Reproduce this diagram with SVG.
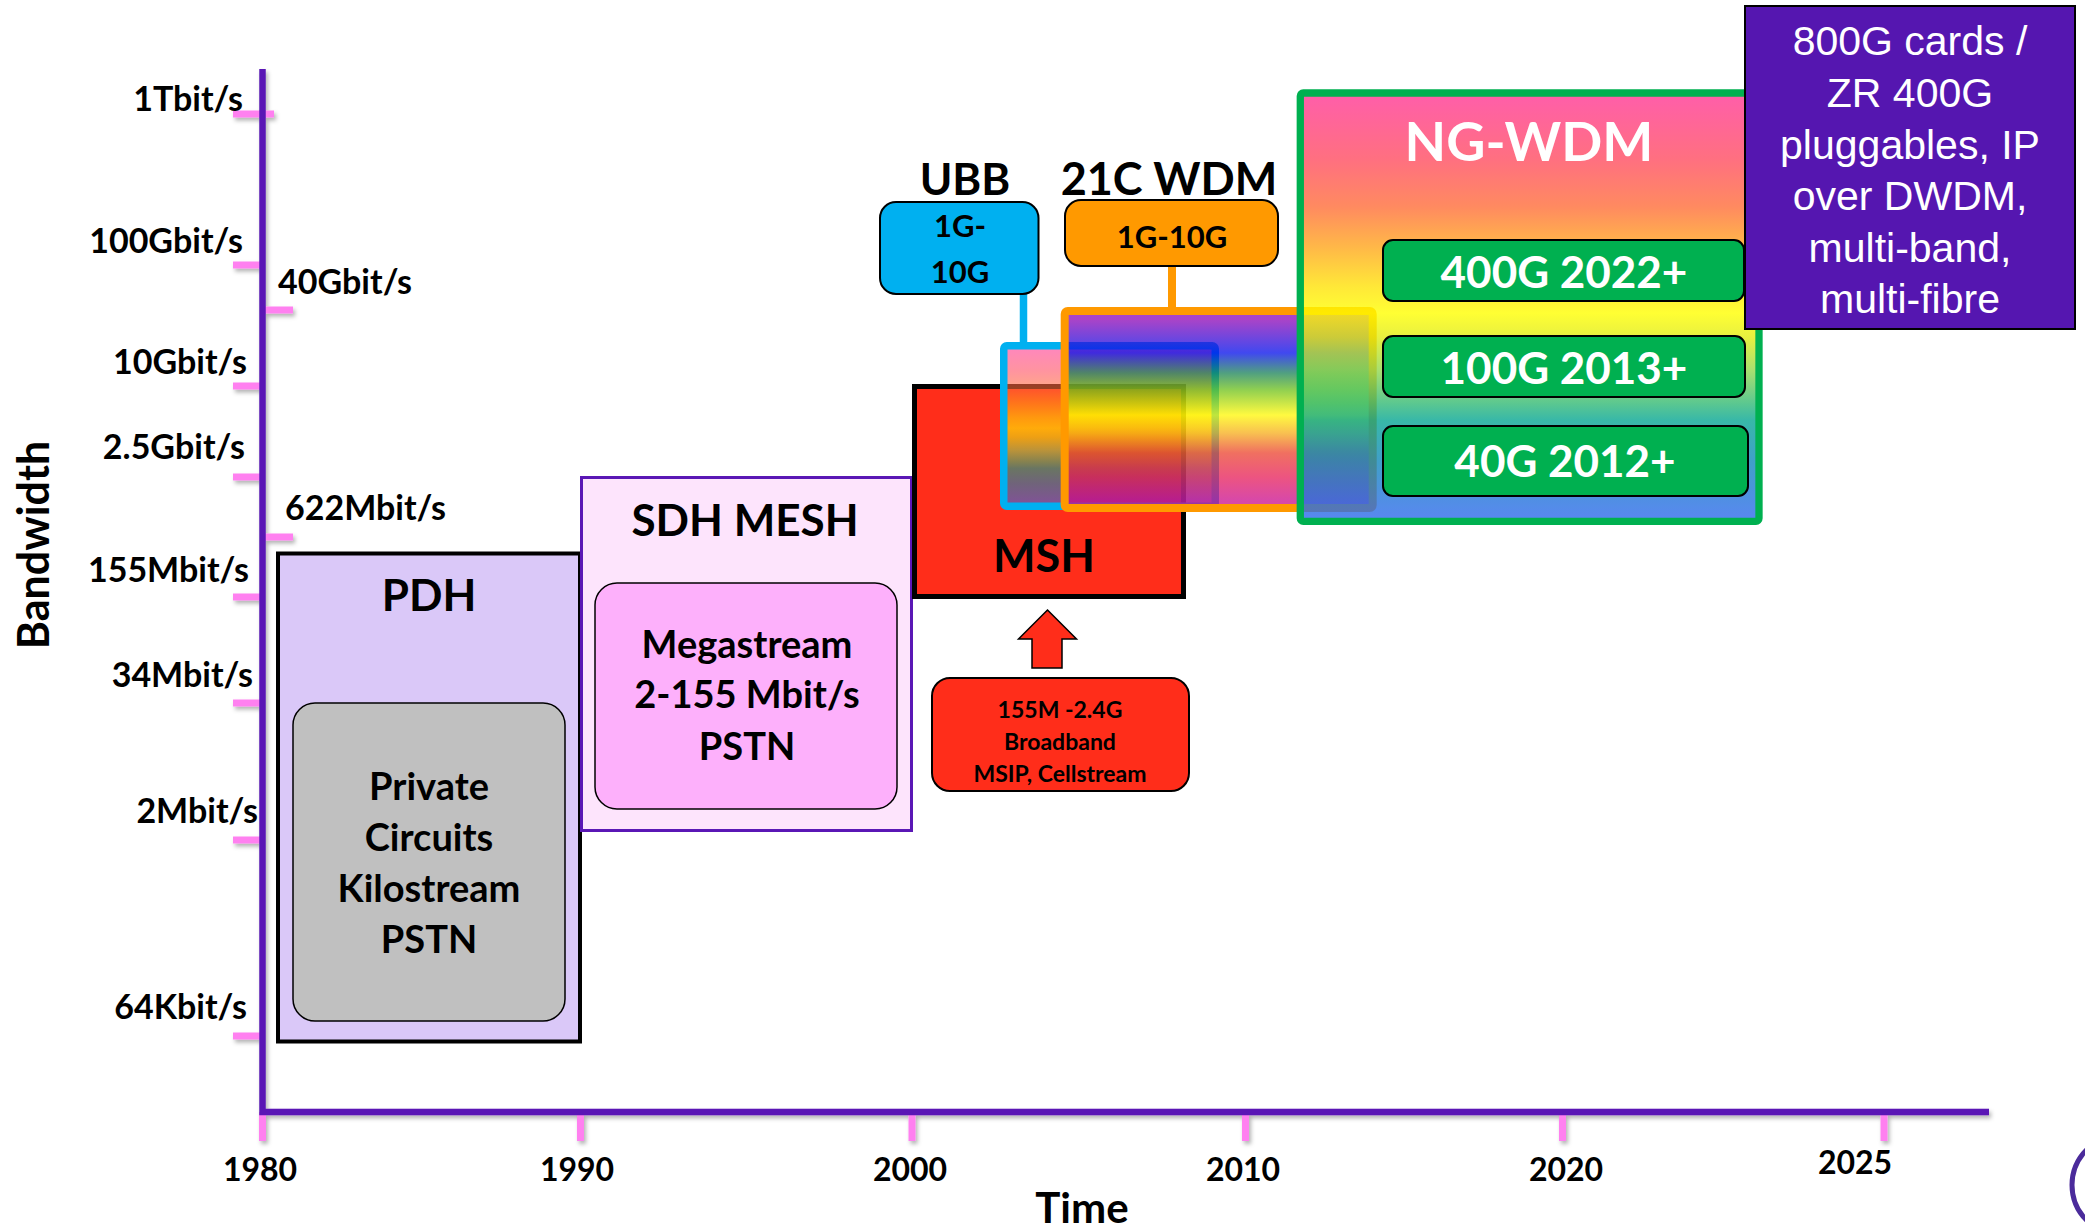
<svg xmlns="http://www.w3.org/2000/svg" width="2085" height="1228" viewBox="0 0 2085 1228">
<defs>
  <linearGradient id="gNG" x1="0" y1="0" x2="0" y2="1">
    <stop offset="0.01" stop-color="#ff3792"/>
    <stop offset="0.156" stop-color="#ff4c60"/>
    <stop offset="0.266" stop-color="#ff6d38"/>
    <stop offset="0.36" stop-color="#ffa61a"/>
    <stop offset="0.452" stop-color="#ffe206"/>
    <stop offset="0.514" stop-color="#ffff00"/>
    <stop offset="0.57" stop-color="#e2ec10"/>
    <stop offset="0.647" stop-color="#92d84c"/>
    <stop offset="0.724" stop-color="#33ba74"/>
    <stop offset="0.764" stop-color="#06a692"/>
    <stop offset="0.857" stop-color="#1088ba"/>
    <stop offset="0.99" stop-color="#2e6aec"/>
  </linearGradient>
  <linearGradient id="g21" x1="0" y1="0" x2="0" y2="1">
    <stop offset="0.046" stop-color="#8b05b6"/>
    <stop offset="0.213" stop-color="#000beb"/>
    <stop offset="0.315" stop-color="#168056"/>
    <stop offset="0.40" stop-color="#6bc016"/>
    <stop offset="0.528" stop-color="#fff800"/>
    <stop offset="0.62" stop-color="#f6ab16"/>
    <stop offset="0.72" stop-color="#eb402b"/>
    <stop offset="0.843" stop-color="#e61b56"/>
    <stop offset="0.96" stop-color="#cb0b8b"/>
  </linearGradient>
  <filter id="sh" filterUnits="userSpaceOnUse" x="0" y="0" width="2085" height="1228">
    <feDropShadow dx="2" dy="3" stdDeviation="2" flood-color="#000" flood-opacity="0.3"/>
  </filter>
</defs>
<style>
  text{font-family:Lato,"Liberation Sans",sans-serif;font-weight:700;fill:#000}
  .ax{font-size:34px;text-anchor:end}
  .axs{font-size:34px;text-anchor:start}
  .yr{font-size:32px;text-anchor:middle}
  .title{font-size:44px;text-anchor:middle}
  .body{font-size:38px;text-anchor:middle}
  .small{font-size:23px;text-anchor:middle}
  .tag{font-size:31px;text-anchor:middle}
  .green{font-size:44px;text-anchor:middle;fill:#fff}
  .arial{font-family:"Liberation Sans",Arial,sans-serif;font-weight:400;font-size:41px;text-anchor:middle;fill:#fff}
  .tick{stroke:#ff80f0;stroke-width:7}
  .axis{stroke:#5a17b5;stroke-width:6.5;fill:none}
  .rr{stroke:#000;stroke-width:2}
</style>
<rect width="2085" height="1228" fill="#fff"/>

<g id="axes" filter="url(#sh)">
  <g class="tick">
    <line x1="233" y1="114" x2="274" y2="114"/>
    <line x1="233" y1="265" x2="262" y2="265"/>
    <line x1="262" y1="310" x2="293" y2="310"/>
    <line x1="233" y1="386" x2="262" y2="386"/>
    <line x1="233" y1="477" x2="262" y2="477"/>
    <line x1="262" y1="537" x2="293" y2="537"/>
    <line x1="233" y1="597" x2="262" y2="597"/>
    <line x1="233" y1="703" x2="262" y2="703"/>
    <line x1="233" y1="840" x2="262" y2="840"/>
    <line x1="233" y1="1036" x2="262" y2="1036"/>
    <line x1="262.5" y1="1112" x2="262.5" y2="1141"/>
    <line x1="580.5" y1="1112" x2="580.5" y2="1141"/>
    <line x1="912" y1="1112" x2="912" y2="1141"/>
    <line x1="1245.5" y1="1112" x2="1245.5" y2="1141"/>
    <line x1="1562.5" y1="1112" x2="1562.5" y2="1141"/>
    <line x1="1884" y1="1110" x2="1884" y2="1141"/>
  </g>
  <path class="axis" d="M262.5 69 V1112 H1989"/>
</g>

<g id="axis-labels">
  <text class="ax" x="243" y="111">1Tbit/s</text>
  <text class="ax" x="243" y="253">100Gbit/s</text>
  <text class="axs" x="278" y="294">40Gbit/s</text>
  <text class="ax" x="247" y="374">10Gbit/s</text>
  <text class="ax" x="245" y="459">2.5Gbit/s</text>
  <text class="axs" x="285" y="520">622Mbit/s</text>
  <text class="ax" x="249" y="582">155Mbit/s</text>
  <text class="ax" x="253" y="687">34Mbit/s</text>
  <text class="ax" x="258" y="823">2Mbit/s</text>
  <text class="ax" x="247" y="1019">64Kbit/s</text>
  <text x="0" y="0" transform="translate(49,545) rotate(-90)" style="font-size:43px;text-anchor:middle">Bandwidth</text>
  <text class="yr" x="260" y="1181">1980</text>
  <text class="yr" x="577" y="1181">1990</text>
  <text class="yr" x="910" y="1181">2000</text>
  <text class="yr" x="1243" y="1181">2010</text>
  <text class="yr" x="1566" y="1181">2020</text>
  <text class="yr" x="1855" y="1174">2025</text>
  <text x="1082" y="1223" style="font-size:42px;text-anchor:middle">Time</text>
</g>

<g id="pdh">
  <rect x="278" y="553.5" width="302" height="488" fill="#dac8f8" stroke="#000" stroke-width="4"/>
  <text class="title" x="429" y="611">PDH</text>
  <rect x="293" y="703" width="272" height="318" rx="22" fill="#c0c0c0" stroke="#000" stroke-width="1.5"/>
  <text class="body" x="429" y="800">Private</text>
  <text class="body" x="429" y="851">Circuits</text>
  <text class="body" x="429" y="902">Kilostream</text>
  <text class="body" x="429" y="953">PSTN</text>
</g>

<g id="sdh-mesh">
  <rect x="581.5" y="477.5" width="330" height="353" fill="#fde4fc" stroke="#5a17b5" stroke-width="3"/>
  <text class="title" x="745" y="536">SDH MESH</text>
  <rect x="595" y="583" width="302" height="226" rx="22" fill="#fdb0fb" stroke="#000" stroke-width="1.5"/>
  <text class="body" x="747" y="658">Megastream</text>
  <text class="body" x="747" y="708">2-155 Mbit/s</text>
  <text class="body" x="747" y="760">PSTN</text>
</g>

<g id="msh">
  <rect x="914.5" y="386.5" width="269" height="210" fill="#ff2d1a" stroke="#000" stroke-width="5"/>
  <text class="title" x="1044" y="572" style="font-size:45px">MSH</text>
</g>

<g id="msh-services">
  <rect x="932" y="678" width="257" height="113" rx="18" fill="#ff2d1a" class="rr"/>
  <text class="small" x="1060" y="718">155M -2.4G</text>
  <text class="small" x="1060" y="750">Broadband</text>
  <text class="small" x="1060" y="782">MSIP, Cellstream</text>
</g>

<g id="connectors">
  <polygon points="1047.5,610 1076.5,639 1062,639 1062,668 1032,668 1032,639 1018.5,639" fill="#ff2d1a" stroke="#000" stroke-width="1.5" stroke-linejoin="miter"/>
  <line x1="1023.5" y1="294" x2="1023.5" y2="343" stroke="#00b0f0" stroke-width="7.5"/>
  <line x1="1172" y1="266" x2="1172" y2="308" stroke="#ff9900" stroke-width="8"/>
</g>

<g id="ubb-label">
  <text class="title" x="965" y="195">UBB</text>
  <rect x="880" y="202" width="158.5" height="92" rx="16" fill="#00b0f0" class="rr"/>
  <text class="tag" x="960" y="237">1G-</text>
  <text class="tag" x="960" y="283">10G</text>
</g>

<g id="wdm21c-label">
  <text class="title" x="1169" y="195" style="font-size:45px">21C WDM</text>
  <rect x="1065" y="200" width="213" height="66" rx="16" fill="#ff9900" class="rr"/>
  <text class="tag" x="1172" y="248">1G-10G</text>
</g>

<g id="ubb-range">
  <rect x="1003.75" y="345.75" width="211.5" height="160.5" rx="3" fill="url(#gNG)" fill-opacity="0.6" stroke="#00b0f0" stroke-width="7.5"/>
</g>

<g id="wdm21c-range">
  <rect x="1064.7" y="311" width="308" height="197" rx="3" fill="url(#g21)" fill-opacity="0.75" stroke="#ff9900" stroke-width="8"/>
</g>

<g id="ng-wdm">
  <rect x="1300.3" y="93" width="458.7" height="428.3" rx="3" fill="url(#gNG)" fill-opacity="0.8" stroke="#00b050" stroke-width="7.3"/>
  <text x="1529" y="161" style="font-size:54px;text-anchor:middle;fill:#fff">NG-WDM</text>
  <rect x="1383" y="240" width="361" height="61" rx="10" fill="#00b050" class="rr"/>
  <text class="green" x="1564" y="288">400G 2022+</text>
  <rect x="1383" y="336" width="362" height="61" rx="10" fill="#00b050" class="rr"/>
  <text class="green" x="1564" y="384">100G 2013+</text>
  <rect x="1383" y="426" width="365" height="70" rx="10" fill="#00b050" class="rr"/>
  <text class="green" x="1565" y="477">40G 2012+</text>
</g>

<g id="future">
  <rect x="1745" y="6" width="330" height="323" fill="#5516b0" stroke="#000" stroke-width="2"/>
  <text class="arial" x="1910" y="55">800G cards /</text>
  <text class="arial" x="1910" y="107">ZR 400G</text>
  <text class="arial" x="1910" y="159">pluggables, IP</text>
  <text class="arial" x="1910" y="210">over DWDM,</text>
  <text class="arial" x="1910" y="262">multi-band,</text>
  <text class="arial" x="1910" y="313">multi-fibre</text>
</g>

<circle cx="2122" cy="1185" r="50" fill="none" stroke="#4b2b9b" stroke-width="5"/>
</svg>
